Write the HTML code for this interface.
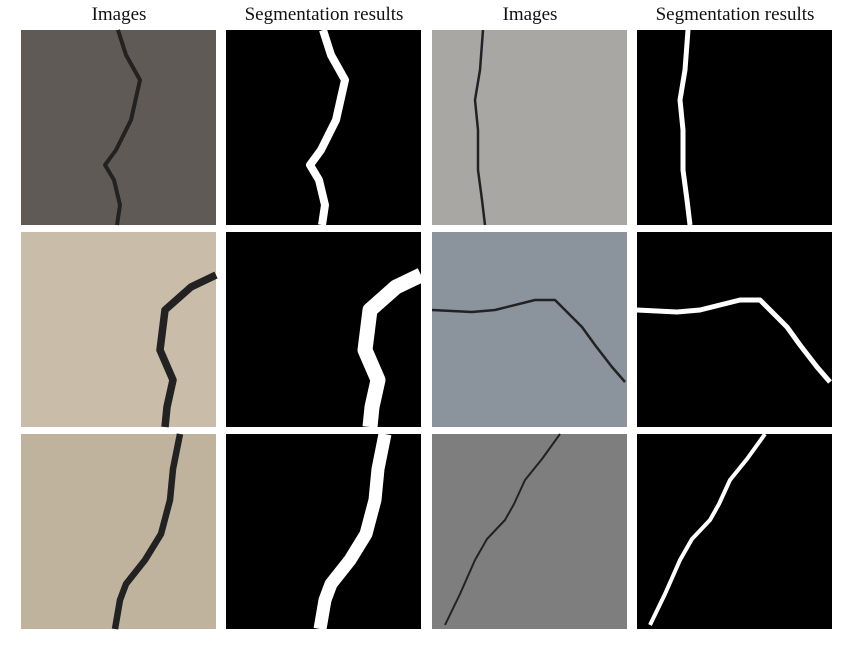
<!DOCTYPE html>
<html><head><meta charset="utf-8"><style>
body{margin:0;width:851px;height:645px;background:#fff;overflow:hidden;position:relative;font-family:"Liberation Serif",serif}
.h{position:absolute;top:4px;font-size:19px;color:#111;text-align:center;width:200px}
svg{position:absolute;left:0;top:0}
</style></head><body>
<div class="h" style="left:19px">Images</div>
<div class="h" style="left:224px">Segmentation results</div>
<div class="h" style="left:430px">Images</div>
<div class="h" style="left:635px">Segmentation results</div>
<svg id="g" width="851" height="645"></svg>
<script>
const colX=[21,226,432,637];
const rowY=[30,232,434];
const S=195;
const photoColors=[["#5f5a55","#a9a7a4"],["#c9bda9","#8b939d"],["#bfb39e","#7e7e7f"]];
const cracks=[
 [[[97,0],[105,25],[119,50],[110,90],[95,120],[84,135],[93,150],[99,175],[96,195]],[[51,0],[48,40],[43,70],[46,100],[46,140],[50,170],[53,195]]],
 [[[195,43],[170,55],[144,78],[139,118],[152,148],[146,175],[144,195]],[[0,78],[40,80],[63,78],[103,68],[123,68],[150,95],[163,113],[180,135],[193,150]]],
 [[[159,0],[152,35],[149,66],[140,100],[124,126],[105,150],[99,166],[94,195]],[[128,0],[110,25],[93,46],[82,70],[73,86],[55,105],[43,126],[28,160],[13,191]]]
];
const maskW=[[8,5],[15,5],[13,4]];
const g=document.getElementById('g');
const NS="http://www.w3.org/2000/svg";
function mk(t,a){const e=document.createElementNS(NS,t);for(const k in a)e.setAttribute(k,a[k]);return e;}
for(let r=0;r<3;r++){for(let p=0;p<2;p++){
 const pts=cracks[r][p];
 const xi=colX[p*2], xm=colX[p*2+1], y=rowY[r];
 const img=mk('rect',{x:xi,y:y,width:S,height:S,fill:photoColors[r][p]});
 
 
 g.appendChild(img);
 const d1=pts.map((q,i)=>(i?'L':'M')+(xi+q[0])+','+(y+q[1])).join(' ');
 const c1=mk('path',{d:d1,stroke:'#222',fill:'none','stroke-width':Math.max(2,maskW[r][p]*0.5),'stroke-linejoin':'round'});
 
 
 g.appendChild(c1);
 const m=mk('rect',{x:xm,y:y,width:S,height:S,fill:'#000'});
 
 
 g.appendChild(m);
 const d2=pts.map((q,i)=>(i?'L':'M')+(xm+q[0])+','+(y+q[1])).join(' ');
 const c2=mk('path',{d:d2,stroke:'#fff',fill:'none','stroke-width':maskW[r][p],'stroke-linejoin':'round'});
 
 
 g.appendChild(c2);
}}
</script>
</body></html>
